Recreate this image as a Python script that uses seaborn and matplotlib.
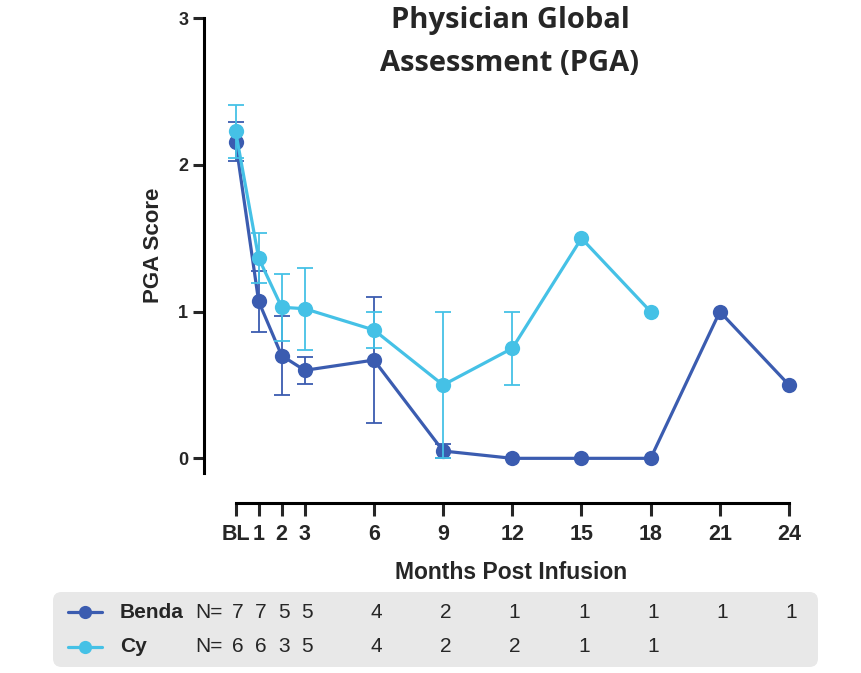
import numpy as np
import pandas as pd
import matplotlib
matplotlib.use("Agg")
import matplotlib.pyplot as plt
import matplotlib.transforms as mtransforms
from matplotlib.patches import FancyBboxPatch
from matplotlib.lines import Line2D
import seaborn as sns

# Data
months = [0, 1, 2, 3, 6, 9, 12, 15, 18, 21, 24]
tick_labels = ["BL", "1", "2", "3", "6", "9", "12", "15", "18", "21", "24"]

benda_months = [0, 1, 2, 3, 6, 9, 12, 15, 18, 21, 24]
benda_mean = [2.16, 1.07, 0.70, 0.60, 0.67, 0.05, 0.0, 0.0, 0.0, 1.0, 0.5]
benda_sem = [0.13, 0.21, 0.27, 0.09, 0.43, 0.05, np.nan, np.nan, np.nan, np.nan, np.nan]
benda_n = [7, 7, 5, 5, 4, 2, 1, 1, 1, 1, 1]

cy_months = [0, 1, 2, 3, 6, 9, 12, 15, 18]
cy_mean = [2.23, 1.365, 1.03, 1.02, 0.875, 0.5, 0.75, 1.5, 1.0]
cy_sem = [0.18, 0.17, 0.23, 0.28, 0.125, 0.5, 0.25, np.nan, np.nan]
cy_n = [6, 6, 3, 5, 4, 2, 2, 1, 1]

BENDA = "#3b5cb0"
CY = "#45c1e6"

sns.set_style("white")
plt.rcParams["font.family"] = ["Liberation Sans", "DejaVu Sans"]

fig = plt.figure(figsize=(8.62, 6.73), dpi=100)
ax = fig.add_axes([204 / 862, 1 - 473 / 673, (789 - 204) / 862, (473 - 18.3) / 673])

groups = [
    ("Benda", benda_months, benda_mean, benda_sem, BENDA, 2),
    ("Cy", cy_months, cy_mean, cy_sem, CY, 4),
]
for name, x, m, e, col, z in groups:
    df = pd.DataFrame({"month": x, "score": m})
    ax.errorbar(x, m, yerr=e, fmt="none", ecolor=col, elinewidth=1.3,
                capsize=6, capthick=1.3, zorder=z, clip_on=False)
    sns.lineplot(data=df, x="month", y="score", color=col, marker="o",
                 markersize=11, markeredgewidth=0, linewidth=2.3,
                 ax=ax, zorder=z + 1, clip_on=False)

ax.set_xlim(-1.37, 24)
ax.set_ylim(-0.1, 3.0)
ax.set_xticks(months, tick_labels)
ax.set_yticks([0, 1, 2, 3])

for s in ["top", "right"]:
    ax.spines[s].set_visible(False)
for s in ["left", "bottom"]:
    ax.spines[s].set_linewidth(2.2)
    ax.spines[s].set_color("black")
ax.spines["bottom"].set_position(("outward", 21.6))
ax.spines["bottom"].set_bounds(0, 24)

ax.tick_params(axis="x", direction="out", length=9.4, width=2.2, pad=6,
               labelsize=15.5, bottom=True)
ax.tick_params(axis="y", direction="out", length=7.9, width=2.2, pad=3.5,
               labelsize=13, left=True)
for lab in ax.get_xticklabels() + ax.get_yticklabels():
    lab.set_fontweight("bold")

ax.set_ylabel("PGA Score", fontsize=16, fontweight="bold", labelpad=10)
ax.set_xlabel("Months Post Infusion", fontsize=16.5, fontweight="bold")
ax.xaxis.set_label_coords(0.525, -0.193)

fig.text(510 / 862, 1 - 6 / 673, "Physician Global\nAssessment (PGA)",
         ha="center", va="top", fontsize=21, fontweight="bold",
         family=["Open Sans", "DejaVu Sans"], linespacing=1.62)

# N table below the axis
box = FancyBboxPatch((53 / 862, 1 - 667 / 673), (818 - 53) / 862, 75 / 673,
                     boxstyle="round,pad=0,rounding_size=0.01",
                     mutation_aspect=862 / 673, transform=fig.transFigure,
                     facecolor="#e8e8e8", edgecolor="none", zorder=-1)
fig.patches.append(box)

blend = mtransforms.blended_transform_factory(ax.transData, fig.transFigure)
rows = [("Benda", benda_months, benda_n, BENDA, 612), ("Cy", cy_months, cy_n, CY, 647)]
for name, x, n, col, ypx in rows:
    yf = 1 - ypx / 673
    fig.lines.append(Line2D([68 / 862, 85 / 862, 102 / 862], [yf, yf, yf],
                            transform=fig.transFigure, color=col, lw=2.3,
                            marker="o", markersize=9.5, markeredgewidth=0,
                            markevery=[1]))
    fig.text(120 / 862, yf, name, ha="left", va="center", fontsize=15,
             fontweight="bold")
    fig.text(195 / 862, yf, "N=", ha="left", va="center", fontsize=15)
    for xi, ni in zip(x, n):
        ax.text(xi + 0.1, yf, str(ni), transform=blend, ha="center", va="center",
                fontsize=15, clip_on=False)

fig.savefig("out.png", dpi=100)
